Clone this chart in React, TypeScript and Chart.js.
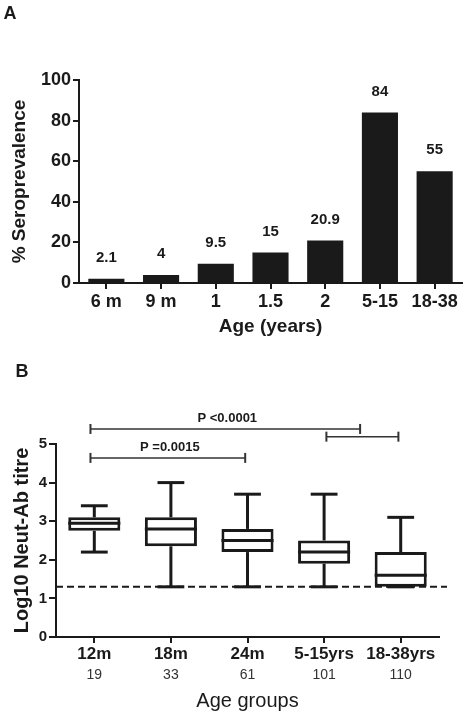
import React, { useEffect, useRef } from "react";
import { Chart, registerables } from "chart.js";

Chart.register(...registerables);

const FONT = "'Liberation Sans', Arial, Helvetica, sans-serif";
const INK = "#1a1a1a";

// ---------- Panel A data ----------
const ageCategoriesA = ["6 m", "9 m", "1", "1.5", "2", "5-15", "18-38"];
const seroprevalence = [2.1, 4, 9.5, 15, 20.9, 84, 55];

// ---------- Panel B data ----------
const ageGroupsB = ["12m", "18m", "24m", "5-15yrs", "18-38yrs"];
const groupCounts = ["19", "33", "61", "101", "110"];
const whiskerMin = [2.2, 1.3, 1.3, 1.3, 1.3];
const quartile1 = [2.75, 2.35, 2.2, 1.9, 1.3];
const medians = [2.95, 2.8, 2.5, 2.2, 1.6];
const quartile3 = [3.1, 3.1, 2.8, 2.5, 2.2];
const whiskerMax = [3.4, 4.0, 3.7, 3.7, 3.1];
const detectionLimit = 1.3;

// significance brackets (x in category index units, y in data units)
const bracketFrom = [-0.05, 3.03, -0.05];
const bracketTo = [3.47, 3.97, 1.97];
const bracketY = [5.39, 5.19, 4.64];
const bracketLabels = ["P <0.0001", "", "P =0.0015"];

function panelLetter(letter: string, x: number, y: number) {
  return {
    id: "panelLetter" + letter,
    afterDraw(chart: any) {
      const ctx = chart.ctx;
      ctx.save();
      ctx.font = `bold 18px ${FONT}`;
      ctx.fillStyle = INK;
      ctx.textAlign = "center";
      ctx.textBaseline = "middle";
      ctx.fillText(letter, x, y);
      ctx.restore();
    },
  };
}

const barValueLabels = {
  id: "barValueLabels",
  afterDatasetsDraw(chart: any) {
    const ctx = chart.ctx;
    const meta = chart.getDatasetMeta(0);
    ctx.save();
    ctx.font = `bold 15px ${FONT}`;
    ctx.fillStyle = INK;
    ctx.textAlign = "center";
    ctx.textBaseline = "middle";
    meta.data.forEach((el: any, i: number) => {
      ctx.fillText(String(seroprevalence[i]), el.x, el.y - 21);
    });
    ctx.restore();
  },
};

const boxPlotPlugin = {
  id: "boxPlot",
  beforeDatasetsDraw(chart: any) {
    const { ctx, chartArea } = chart;
    const y = chart.scales.y;
    const py = y.getPixelForValue(detectionLimit);
    ctx.save();
    ctx.setLineDash([7, 4]);
    ctx.lineWidth = 2;
    ctx.strokeStyle = INK;
    ctx.beginPath();
    ctx.moveTo(chartArea.left, py);
    ctx.lineTo(chartArea.right + 8, py);
    ctx.stroke();
    ctx.restore();
  },
  afterDatasetsDraw(chart: any) {
    const ctx = chart.ctx;
    const x = chart.scales.x;
    const y = chart.scales.y;
    const p0 = x.getPixelForValue(0);
    const step = x.getPixelForValue(1) - p0;
    const capHalf = step * 0.175;
    const meta = chart.getDatasetMeta(0);
    const line = (x1: number, y1: number, x2: number, y2: number) => {
      ctx.beginPath();
      ctx.moveTo(x1, y1);
      ctx.lineTo(x2, y2);
      ctx.stroke();
    };
    ctx.save();
    ctx.strokeStyle = INK;
    ctx.lineWidth = 3;
    meta.data.forEach((el: any, i: number) => {
      const cx = el.x;
      const half = el.width / 2;
      const pMax = y.getPixelForValue(whiskerMax[i]);
      const pQ3 = y.getPixelForValue(quartile3[i]);
      const pQ1 = y.getPixelForValue(quartile1[i]);
      const pMin = y.getPixelForValue(whiskerMin[i]);
      const pMed = y.getPixelForValue(medians[i]);
      if (pMax < pQ3) line(cx, pQ3, cx, pMax);
      line(cx - capHalf, pMax, cx + capHalf, pMax);
      if (pMin > pQ1) line(cx, pQ1, cx, pMin);
      line(cx - capHalf, pMin, cx + capHalf, pMin);
      line(cx - half, pMed, cx + half, pMed);
    });
    // brackets
    ctx.strokeStyle = "#333";
    ctx.font = `bold 13px ${FONT}`;
    ctx.fillStyle = INK;
    ctx.textAlign = "center";
    ctx.textBaseline = "middle";
    bracketY.forEach((v, i) => {
      const xa = p0 + bracketFrom[i] * step;
      const xb = p0 + bracketTo[i] * step;
      const py = y.getPixelForValue(v);
      ctx.lineWidth = 1.5;
      line(xa, py, xb, py);
      ctx.lineWidth = 2;
      line(xa, py - 5, xa, py + 5);
      line(xb, py - 5, xb, py + 5);
      if (bracketLabels[i]) ctx.fillText(bracketLabels[i], (xa + xb) / 2 + 2, py - 10.5);
    });
    ctx.restore();
  },
};

const axisGrid = (tickLength: number) => ({
  drawOnChartArea: false,
  offset: false,
  tickLength,
  color: INK,
  lineWidth: 2,
});
const axisBorder = { display: true, color: INK, width: 2 };

export default function App() {
  const refA = useRef<HTMLCanvasElement | null>(null);
  const refB = useRef<HTMLCanvasElement | null>(null);

  useEffect(() => {
    document.body.style.margin = "0";
    const chartA = new Chart(refA.current as HTMLCanvasElement, {
      type: "bar",
      data: {
        labels: ageCategoriesA,
        datasets: [
          {
            data: seroprevalence,
            backgroundColor: INK,
            barPercentage: 0.66,
            categoryPercentage: 1,
          },
        ],
      },
      options: {
        responsive: false,
        animation: false,
        layout: { padding: { left: 0, right: 6, top: 80, bottom: 0 } },
        plugins: { legend: { display: false }, tooltip: { enabled: false } },
        scales: {
          x: {
            offset: true,
            grid: axisGrid(6),
            border: axisBorder,
            ticks: {
              font: { family: FONT, size: 18, weight: "bold" },
              color: INK,
              padding: 2,
              autoSkip: false,
              maxRotation: 0,
            },
            title: {
              display: true,
              text: "Age (years)",
              font: { family: FONT, size: 19, weight: "bold" },
              color: INK,
              padding: { top: 0, bottom: 7 },
            },
            afterFit: (s: any) => {
              s.height = 62;
            },
          },
          y: {
            min: 0,
            max: 100,
            ticks: {
              stepSize: 20,
              font: { family: FONT, size: 18, weight: "bold" },
              color: INK,
              padding: 2,
            },
            grid: axisGrid(6),
            border: axisBorder,
            title: {
              display: true,
              text: "% Seroprevalence",
              font: { family: FONT, size: 19, weight: "bold" },
              color: INK,
              padding: { top: 8.6, bottom: 0 },
            },
            afterFit: (s: any) => {
              s.width = 79;
            },
          },
        },
      } as any,
      plugins: [barValueLabels, panelLetter("A", 10, 14)],
    });

    const chartB = new Chart(refB.current as HTMLCanvasElement, {
      type: "bar",
      data: {
        labels: ageGroupsB,
        datasets: [
          {
            data: quartile1.map((v, i) => [v, quartile3[i]]),
            backgroundColor: "#ffffff",
            borderColor: INK,
            borderWidth: 3,
            borderSkipped: false,
            barPercentage: 0.68,
            categoryPercentage: 1,
            xAxisID: "x",
            yAxisID: "y",
          },
        ],
      },
      options: {
        responsive: false,
        animation: false,
        layout: { padding: { left: 0, right: 29, top: 99, bottom: 0 } },
        plugins: { legend: { display: false }, tooltip: { enabled: false } },
        scales: {
          x: {
            type: "category",
            position: "bottom",
            weight: 0,
            offset: true,
            grid: axisGrid(6),
            border: axisBorder,
            ticks: {
              font: { family: FONT, size: 17, weight: "bold" },
              color: INK,
              padding: 1,
              autoSkip: false,
              maxRotation: 0,
            },
            afterFit: (s: any) => {
              s.height = 28;
            },
          },
          x2: {
            type: "category",
            labels: groupCounts,
            position: "bottom",
            weight: 1,
            offset: true,
            grid: { display: false, drawTicks: false },
            border: { display: false },
            ticks: {
              font: { family: FONT, size: 14 },
              color: "#333",
              padding: 2,
              autoSkip: false,
              maxRotation: 0,
            },
            title: {
              display: true,
              text: "Age groups",
              font: { family: FONT, size: 20 },
              color: INK,
              padding: { top: 0, bottom: 5.5 },
            },
            afterFit: (s: any) => {
              s.height = 54;
            },
          },
          y: {
            min: 0,
            max: 5,
            ticks: {
              stepSize: 1,
              font: { family: FONT, size: 15, weight: "bold" },
              color: INK,
              padding: 2,
            },
            grid: axisGrid(7),
            border: axisBorder,
            title: {
              display: true,
              text: "Log10 Neut-Ab titre",
              font: { family: FONT, size: 20, weight: "bold" },
              color: INK,
              padding: { top: 10, bottom: 0 },
            },
            afterFit: (s: any) => {
              s.width = 56;
            },
          },
        },
      } as any,
      plugins: [boxPlotPlugin, panelLetter("B", 22, 27.5)],
    });

    return () => {
      chartA.destroy();
      chartB.destroy();
    };
  }, []);

  return (
    <div
      style={{
        position: "absolute",
        left: 0,
        top: 0,
        width: 468,
        height: 719,
        background: "#ffffff",
      }}
    >
      <canvas
        ref={refA}
        width={468}
        height={345}
        style={{ position: "absolute", left: 0, top: 0, display: "block" }}
      />
      <canvas
        ref={refB}
        width={468}
        height={374}
        style={{ position: "absolute", left: 0, top: 345, display: "block" }}
      />
    </div>
  );
}
